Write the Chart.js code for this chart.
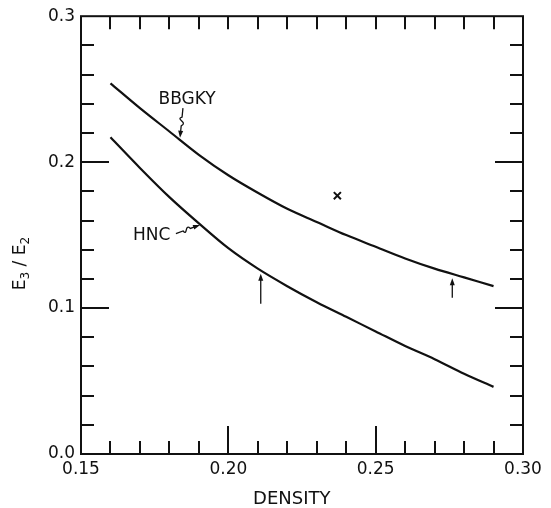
<!DOCTYPE html>
<html>
<head>
<meta charset="utf-8">
<style>
  html, body { margin: 0; padding: 0; background: #fff; }
</style>
<script src="https://cdn.jsdelivr.net/npm/chart.js@4/dist/chart.umd.min.js"></script>
</head>
<body>
<canvas id="chart" width="551" height="508"></canvas>
<script>
// curves
const density = [0.16, 0.17, 0.18, 0.19, 0.20, 0.21, 0.22, 0.23, 0.24, 0.25, 0.26, 0.27, 0.28, 0.29];
const bbgky = [0.254, 0.237, 0.221, 0.205, 0.191, 0.179, 0.168, 0.159, 0.150, 0.142, 0.134, 0.127, 0.121, 0.115];
const hnc = [0.217, 0.196, 0.176, 0.158, 0.141, 0.127, 0.115, 0.104, 0.094, 0.084, 0.074, 0.065, 0.055, 0.046];

// single "x" point
const markX = [0.237];
const markY = [0.177];

// axis labels
const xLabelTicks = [0.15, 0.20, 0.25, 0.30];
const xLabels = ["0.15", "0.20", "0.25", "0.30"];
const yLabelTicks = [0.0, 0.1, 0.2, 0.3];
const yLabels = ["0.0", "0.1", "0.2", "0.3"];
const xTitle = "DENSITY";

// inward tick marks
const xMarks = [0.16, 0.17, 0.18, 0.19, 0.20, 0.21, 0.22, 0.23, 0.24, 0.25, 0.26, 0.27, 0.28, 0.29];
const xLongMarks = [0.20, 0.25];
const yMarks = [0.02, 0.04, 0.06, 0.08, 0.10, 0.12, 0.14, 0.16, 0.18, 0.20, 0.22, 0.24, 0.26, 0.28];
const yLongMarks = [0.10, 0.20];

// curve names and their pointers
const curveNames = ["BBGKY", "HNC"];
const nameX = [0.186, 0.174];
const nameY = [0.243, 0.150];
const pointerFrom = [[0.1846, 0.237], [0.1822, 0.151]];
const pointerTo = [[0.1836, 0.2167], [0.1904, 0.157]];

// small upward arrows
const arrowX = [0.211, 0.276];
const arrowTail = [0.103, 0.107];
const arrowTip = [0.1235, 0.1205];

const ink = "#111";
const font = "'DejaVu Sans', sans-serif";

function arrowHead(ctx, x0, y0, x1, y1) {
    const a = Math.atan2(y1 - y0, x1 - x0);
    ctx.beginPath();
    ctx.moveTo(x1, y1);
    ctx.lineTo(x1 - 7 * Math.cos(a) + 2.5 * Math.sin(a), y1 - 7 * Math.sin(a) - 2.5 * Math.cos(a));
    ctx.lineTo(x1 - 7 * Math.cos(a) - 2.5 * Math.sin(a), y1 - 7 * Math.sin(a) + 2.5 * Math.cos(a));
    ctx.closePath();
    ctx.fill();
}

const frame = {
    id: "frame",
    afterDatasetsDraw(chart) {
        const { ctx, chartArea: { left, right, top, bottom }, scales: { x, y } } = chart;
        ctx.save();
        ctx.strokeStyle = ink;
        ctx.fillStyle = ink;
        ctx.lineWidth = 2;
        ctx.lineCap = "butt";
        ctx.strokeRect(left, top, right - left, bottom - top);

        ctx.beginPath();
        xMarks.forEach(v => {
            const px = Math.round(x.getPixelForValue(v));
            const len = xLongMarks.some(m => Math.abs(m - v) < 1e-6) ? 28 : 13;
            ctx.moveTo(px, bottom);
            ctx.lineTo(px, bottom - len);
            ctx.moveTo(px, top);
            ctx.lineTo(px, top + 13);
        });
        yMarks.forEach(v => {
            const py = Math.round(y.getPixelForValue(v));
            const len = yLongMarks.some(m => Math.abs(m - v) < 1e-6) ? 28 : 13;
            ctx.moveTo(left, py);
            ctx.lineTo(left + len, py);
            ctx.moveTo(right, py);
            ctx.lineTo(right - len, py);
        });
        ctx.stroke();

        // axis titles
        ctx.textBaseline = "middle";
        ctx.textAlign = "center";
        ctx.font = "18px " + font;
        ctx.fillText(xTitle, left + (right - left) * 0.477, 499);

        // E3 / E2, rotated, with real subscripts
        ctx.save();
        ctx.translate(21, top + (bottom - top) * 0.565);
        ctx.rotate(-Math.PI / 2);
        const parts = [["E", 17, 0], ["3", 12, 5], [" / ", 17, 0], ["E", 17, 0], ["2", 12, 5]];
        let w = 0;
        parts.forEach(p => { ctx.font = p[1] + "px " + font; w += ctx.measureText(p[0]).width; });
        let cx = -w / 2;
        ctx.textAlign = "left";
        parts.forEach(p => {
            ctx.font = p[1] + "px " + font;
            ctx.fillText(p[0], cx, p[2]);
            cx += ctx.measureText(p[0]).width;
        });
        ctx.restore();

        // curve names
        ctx.font = "17px " + font;
        ctx.textAlign = "center";
        curveNames.forEach((t, i) => {
            ctx.fillText(t, x.getPixelForValue(nameX[i]), y.getPixelForValue(nameY[i]));
        });

        // wavy pointers
        ctx.lineWidth = 1.3;
        pointerFrom.forEach((p, i) => {
            const x0 = x.getPixelForValue(p[0]), y0 = y.getPixelForValue(p[1]);
            const x1 = x.getPixelForValue(pointerTo[i][0]), y1 = y.getPixelForValue(pointerTo[i][1]);
            const L = Math.hypot(x1 - x0, y1 - y0);
            const dx = (x1 - x0) / L, dy = (y1 - y0) / L;
            const nx = -dy, ny = dx;
            const at = (f, o) => [x0 + dx * L * f + nx * o, y0 + dy * L * f + ny * o];
            const a = at(0.3, 0), b = at(0.4, 7), c = at(0.45, -7), d = at(0.6, 0);
            ctx.beginPath();
            ctx.moveTo(x0, y0);
            ctx.lineTo(a[0], a[1]);
            ctx.bezierCurveTo(b[0], b[1], c[0], c[1], d[0], d[1]);
            ctx.lineTo(x1 - dx * 5, y1 - dy * 5);
            ctx.stroke();
            arrowHead(ctx, d[0], d[1], x1, y1);
        });

        // straight arrows
        arrowX.forEach((v, i) => {
            const px = x.getPixelForValue(v);
            const y0 = y.getPixelForValue(arrowTail[i]);
            const y1 = y.getPixelForValue(arrowTip[i]);
            ctx.beginPath();
            ctx.moveTo(px, y0);
            ctx.lineTo(px, y1 + 5);
            ctx.stroke();
            arrowHead(ctx, px, y0, px, y1);
        });
        ctx.restore();
    }
};

new Chart(document.getElementById("chart"), {
    type: "line",
    data: {
        datasets: [
            {
                label: "BBGKY",
                data: density.map((d, i) => ({ x: d, y: bbgky[i] })),
                borderColor: ink,
                borderWidth: 2.2,
                pointRadius: 0,
                cubicInterpolationMode: "monotone",
                fill: false,
            },
            {
                label: "HNC",
                data: density.map((d, i) => ({ x: d, y: hnc[i] })),
                borderColor: ink,
                borderWidth: 2.2,
                pointRadius: 0,
                cubicInterpolationMode: "monotone",
                fill: false,
            },
            {
                type: "scatter",
                label: "x",
                data: markX.map((v, i) => ({ x: v, y: markY[i] })),
                pointStyle: "crossRot",
                pointRadius: 5,
                borderColor: ink,
                borderWidth: 2,
            },
        ],
    },
    options: {
        responsive: false,
        animation: false,
        events: [],
        layout: { padding: { top: 15, right: 28, left: 0, bottom: 0 } },
        plugins: { legend: { display: false }, tooltip: { enabled: false } },
        scales: {
            x: {
                type: "linear",
                min: 0.15,
                max: 0.30,
                afterBuildTicks: (s) => { s.ticks = xLabelTicks.map(v => ({ value: v })); },
                afterFit: (s) => { s.height = 54; },
                grid: { display: false, drawTicks: false },
                border: { display: false },
                ticks: {
                    autoSkip: false,
                    maxRotation: 0,
                    padding: 5,
                    color: ink,
                    font: { family: font, size: 17 },
                    callback: (v, i) => xLabels[i],
                },
            },
            y: {
                type: "linear",
                min: 0,
                max: 0.3,
                afterBuildTicks: (s) => { s.ticks = yLabelTicks.map(v => ({ value: v })); },
                afterFit: (s) => { s.width = 81; },
                grid: { display: false, drawTicks: false },
                border: { display: false },
                ticks: {
                    autoSkip: false,
                    padding: 6,
                    color: ink,
                    font: { family: font, size: 17 },
                    callback: (v, i) => yLabels[i],
                },
            },
        },
    },
    plugins: [frame],
});
</script>
</body>
</html>
